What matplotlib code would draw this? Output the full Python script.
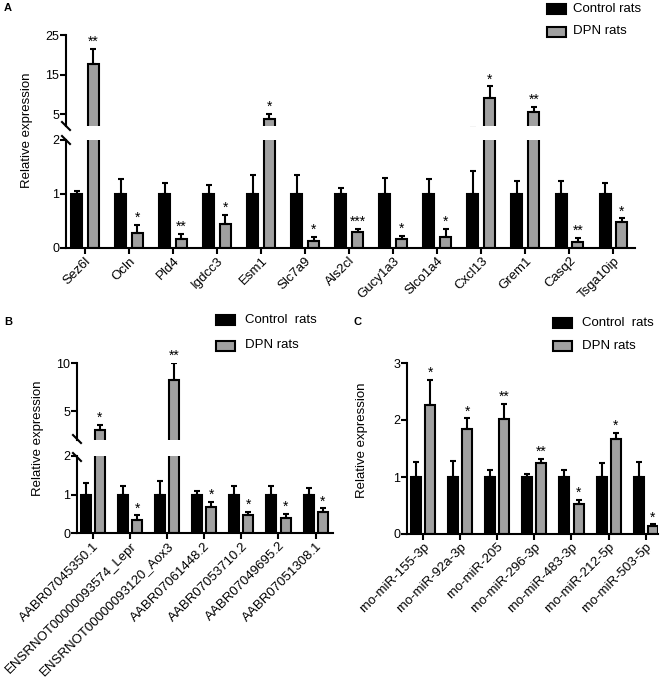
import matplotlib
matplotlib.use("Agg")
import matplotlib.pyplot as plt
from matplotlib.patches import Rectangle
from matplotlib.lines import Line2D
import numpy as np

plt.rcParams['font.family'] = ['Liberation Sans', 'DejaVu Sans']

# Panel A
genes_a = ["Sez6l", "Ocln", "Pld4", "Igdcc3", "Esm1", "Slc7a9", "Als2cl",
           "Gucy1a3", "Slco1a4", "Cxcl13", "Grem1", "Casq2", "Tsga10ip"]
ctrl_a = [1.0] * 13
ctrl_sem_a = [0.06, 0.28, 0.21, 0.16, 0.35, 0.35, 0.11, 0.30, 0.28, 0.43, 0.25, 0.24, 0.20]
dpn_a = [17.6, 0.27, 0.165, 0.44, 3.7, 0.13, 0.29, 0.165, 0.20, 9.1, 5.5, 0.115, 0.49]
dpn_sem_a = [3.8, 0.16, 0.10, 0.18, 1.3, 0.08, 0.06, 0.06, 0.15, 2.9, 1.3, 0.065, 0.06]
stars_a = ["**", "*", "**", "*", "*", "*", "***", "*", "*", "*", "**", "**", "*"]

# Panel B
genes_b = ["AABR07045350.1", "ENSRNOT00000093574_Lepr", "ENSRNOT00000093120_Aox3",
           "AABR07061448.2", "AABR07053710.2", "AABR07049695.2", "AABR07051308.1"]
ctrl_b = [1.0] * 7
ctrl_sem_b = [0.31, 0.23, 0.34, 0.09, 0.21, 0.21, 0.16]
dpn_b = [3.0, 0.34, 8.2, 0.67, 0.47, 0.39, 0.55]
dpn_sem_b = [0.6, 0.12, 1.8, 0.13, 0.08, 0.10, 0.09]
stars_b = ["*", "*", "**", "*", "*", "*", "*"]

# Panel C
mirs_c = ["rno-miR-155-3p", "rno-miR-92a-3p", "rno-miR-205", "rno-miR-296-3p",
          "rno-miR-483-3p", "rno-miR-212-5p", "rno-miR-503-5p"]
ctrl_c = [1.0] * 7
ctrl_sem_c = [0.27, 0.28, 0.13, 0.06, 0.13, 0.24, 0.26]
dpn_c = [2.26, 1.84, 2.01, 1.25, 0.53, 1.66, 0.14]
dpn_sem_c = [0.45, 0.19, 0.27, 0.07, 0.07, 0.11, 0.03]
stars_c = ["*", "*", "**", "**", "*", "*", "*"]

GRAY = '#a0a0a0'
LW = 1.5
W, H = 666, 679
FS = 9.5


def box(x0, y0, x1, y1):
    # pixel box (top-left origin) -> figure fraction rect
    return [x0 / W, 1 - y1 / H, (x1 - x0) / W, (y1 - y0) / H]


def style(ax, bottom=True):
    for s in ['top', 'right']:
        ax.spines[s].set_visible(False)
    ax.spines['left'].set_linewidth(LW)
    ax.spines['bottom'].set_linewidth(LW)
    ax.tick_params(width=LW, length=4, labelsize=9, pad=1)
    if not bottom:
        ax.spines['bottom'].set_visible(False)
        ax.tick_params(axis='x', bottom=False, labelbottom=False)


def draw(ax, ctrl, csem, dpn, dsem, stars, lo, hi, bw, off):
    x = np.arange(len(ctrl))
    ekw = dict(lw=LW, capsize=2.5, capthick=LW, ecolor='black')
    ax.bar(x - off, ctrl, bw, color='black', edgecolor='black', linewidth=LW,
           yerr=[np.zeros(len(ctrl)), csem], error_kw=ekw)
    ax.bar(x + off, dpn, bw, color=GRAY, edgecolor='black', linewidth=LW,
           yerr=[np.zeros(len(dpn)), dsem], error_kw=ekw)
    for i in range(len(dpn)):
        top = dpn[i] + dsem[i]
        if lo <= top <= hi:
            ax.annotate(stars[i], (x[i] + off, top), xytext=(0, 0), textcoords='offset points',
                        ha='center', va='bottom', fontsize=10)
    ax.set_ylim(lo, hi)


def slash(px, py):
    fig.add_artist(Line2D([(px - 4) / W, (px + 4) / W], [1 - (py - 4) / H, 1 - (py + 4) / H],
                          color='black', lw=LW, transform=fig.transFigure))


def legend(px, py1, py2, tx, labels):
    for py, fc in [(py1, 'black'), (py2, GRAY)]:
        fig.add_artist(Rectangle((px / W, 1 - (py + 5) / H), 19 / W, 10 / H, facecolor=fc,
                                 edgecolor='black', lw=LW, transform=fig.transFigure))
    fig.text(tx / W, 1 - py1 / H, labels[0], fontsize=FS, va='center')
    fig.text(tx / W, 1 - py2 / H, labels[1], fontsize=FS, va='center')


def ylabel(px, py):
    fig.text(px / W, 1 - py / H, "Relative expression", rotation=90, ha='center',
             va='center', fontsize=FS)


fig = plt.figure(figsize=(6.66, 6.79), dpi=100)

# ---- A ----
a_hi = fig.add_axes(box(66, 35, 635, 126))
a_lo = fig.add_axes(box(66, 140, 635, 248))
for ax, lo, hi in [(a_hi, 2, 25), (a_lo, 0, 2)]:
    draw(ax, ctrl_a, ctrl_sem_a, dpn_a, dpn_sem_a, stars_a, lo, hi, 0.25, 0.19)
    ax.set_xlim(-0.43, 12.49)
a_hi.set_yticks([5, 15, 25])
a_lo.set_yticks([0, 1, 2])
style(a_hi, bottom=False)
style(a_lo)
a_lo.set_xticks(np.arange(len(genes_a)))
a_lo.set_xticklabels(genes_a, rotation=45, ha='right', rotation_mode='anchor', fontsize=FS)
slash(66, 126)
slash(66, 140)
ylabel(27, 130)
legend(547, 8.5, 31.5, 573, ['Control rats', 'DPN rats'])

# ---- B ----
b_hi = fig.add_axes(box(77, 363, 333, 440))
b_lo = fig.add_axes(box(77, 456, 333, 533))
for ax, lo, hi in [(b_hi, 2, 10), (b_lo, 0, 2)]:
    draw(ax, ctrl_b, ctrl_sem_b, dpn_b, dpn_sem_b, stars_b, lo, hi, 0.27, 0.19)
    ax.set_xlim(-0.43, 6.47)
b_hi.set_yticks([5, 10])
b_lo.set_yticks([0, 1, 2])
style(b_hi, bottom=False)
style(b_lo)
b_lo.set_xticks(np.arange(len(genes_b)))
b_lo.set_xticklabels(genes_b, rotation=45, ha='right', rotation_mode='anchor', fontsize=FS)
slash(77, 439)
slash(77, 457)
ylabel(38, 438)
legend(216, 320, 345.5, 245, ['Control  rats', 'DPN rats'])

# ---- C ----
c_ax = fig.add_axes(box(407, 363, 658, 534))
draw(c_ax, ctrl_c, ctrl_sem_c, dpn_c, dpn_sem_c, stars_c, 0, 3, 0.27, 0.19)
c_ax.set_xlim(-0.43, 6.33)
c_ax.set_yticks([0, 1, 2, 3])
style(c_ax)
c_ax.set_xticks(np.arange(len(mirs_c)))
c_ax.set_xticklabels(mirs_c, rotation=45, ha='right', rotation_mode='anchor', fontsize=FS)
ylabel(362, 440)
legend(553, 322.5, 346, 582, ['Control  rats', 'DPN rats'])

# panel letters
fig.text(4 / W, 1 - 8 / H, "A", fontsize=8, fontweight='bold', va='center')
fig.text(4 / W, 1 - 322 / H, "B", fontsize=8, fontweight='bold', va='center')
fig.text(353 / W, 1 - 322 / H, "C", fontsize=8, fontweight='bold', va='center')

fig.savefig("out.png", dpi=100)
